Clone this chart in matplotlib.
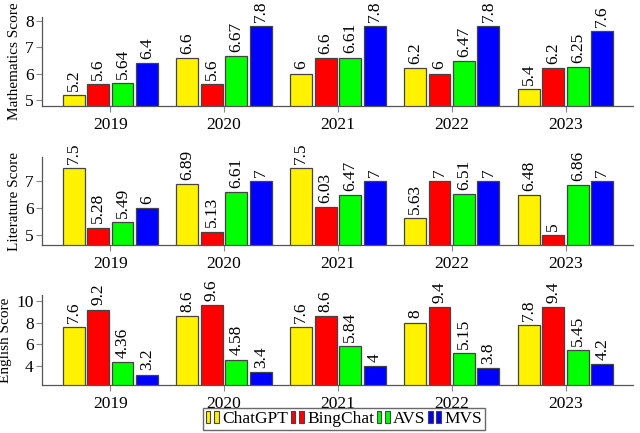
import matplotlib.pyplot as plt
from matplotlib.patches import Patch
from matplotlib.legend_handler import HandlerTuple
import numpy as np

years = ['2019', '2020', '2021', '2022', '2023']
models = ['ChatGPT', 'BingChat', 'AVS', 'MVS']
colors = ['#fff200', '#ff0000', '#00ff00', '#0000ff']

math_scores = [
    [5.2, 6.6, 6, 6.2, 5.4],
    [5.6, 5.6, 6.6, 6, 6.2],
    [5.64, 6.67, 6.61, 6.47, 6.25],
    [6.4, 7.8, 7.8, 7.8, 7.6],
]
lit_scores = [
    [7.5, 6.89, 7.5, 5.63, 6.48],
    [5.28, 5.13, 6.03, 7, 5],
    [5.49, 6.61, 6.47, 6.51, 6.86],
    [6, 7, 7, 7, 7],
]
eng_scores = [
    [7.6, 8.6, 7.6, 8, 7.8],
    [9.2, 9.6, 8.6, 9.4, 9.4],
    [4.36, 4.58, 5.84, 5.15, 5.45],
    [3.2, 3.4, 4, 3.8, 4.2],
]

plt.rcParams['font.family'] = ['Liberation Serif', 'DejaVu Serif']

fig = plt.figure(figsize=(6.4, 4.33), dpi=100)

panels = [
    (math_scores, 'Mathematics Score', [5, 6, 7, 8], (4.77, 8.15), [0.0656, 0.755, 0.923, 0.206]),
    (lit_scores, 'Literature Score', [5, 6, 7], (4.63, 7.89), [0.0656, 0.434, 0.923, 0.203]),
    (eng_scores, 'English Score', [4, 6, 8, 10], (2.24, 10.55), [0.0656, 0.111, 0.923, 0.208]),
]

x = np.arange(len(years))
w = 0.193
step = 0.215

for scores, label, yt, ylim, pos in panels:
    ax = fig.add_axes(pos)
    for i, vals in enumerate(scores):
        off = (i - 1.5) * step
        bars = ax.bar(x + off, vals, w, color=colors[i], edgecolor='#444444',
                      linewidth=0.9, zorder=2)
        for b, v in zip(bars, vals):
            ax.annotate('%g' % v, (b.get_x() + b.get_width() / 2, v),
                        xytext=(0, 3), textcoords='offset points',
                        ha='center', va='bottom', rotation=90, fontsize=12.5)
    ax.set_xlim(-0.6, 4.59)
    ax.set_ylim(*ylim)
    ax.set_yticks(yt)
    ax.set_xticks(x)
    ax.set_xticklabels(years)
    ax.set_ylabel(label, fontsize=11, labelpad=3)
    for s in ['top', 'right']:
        ax.spines[s].set_visible(False)
    for s in ['left', 'bottom']:
        ax.spines[s].set_color('#555555')
        ax.spines[s].set_linewidth(0.9)
    ax.tick_params(axis='both', colors='#888888', labelcolor='black',
                   labelsize=12.5, length=4, width=0.8)
    ax.tick_params(axis='x', pad=4)
    ax.tick_params(axis='y', pad=2)

# pgfplots style legend icon: two small bars
handles = [(Patch(facecolor=c, edgecolor='#444444', linewidth=0.8),
            Patch(facecolor=c, edgecolor='#444444', linewidth=0.8)) for c in colors]
fig.legend(handles, models, ncol=4, loc='lower center', bbox_to_anchor=(344 / 640, 0.008),
           handler_map={tuple: HandlerTuple(ndivide=None, pad=0.2)},
           handlelength=0.75, handleheight=0.75, handletextpad=0.2, columnspacing=0.15,
           fontsize=12.5, frameon=True, fancybox=False, edgecolor='#444444',
           borderpad=0.15, borderaxespad=0.0)

fig.savefig('out.png', dpi=100)
